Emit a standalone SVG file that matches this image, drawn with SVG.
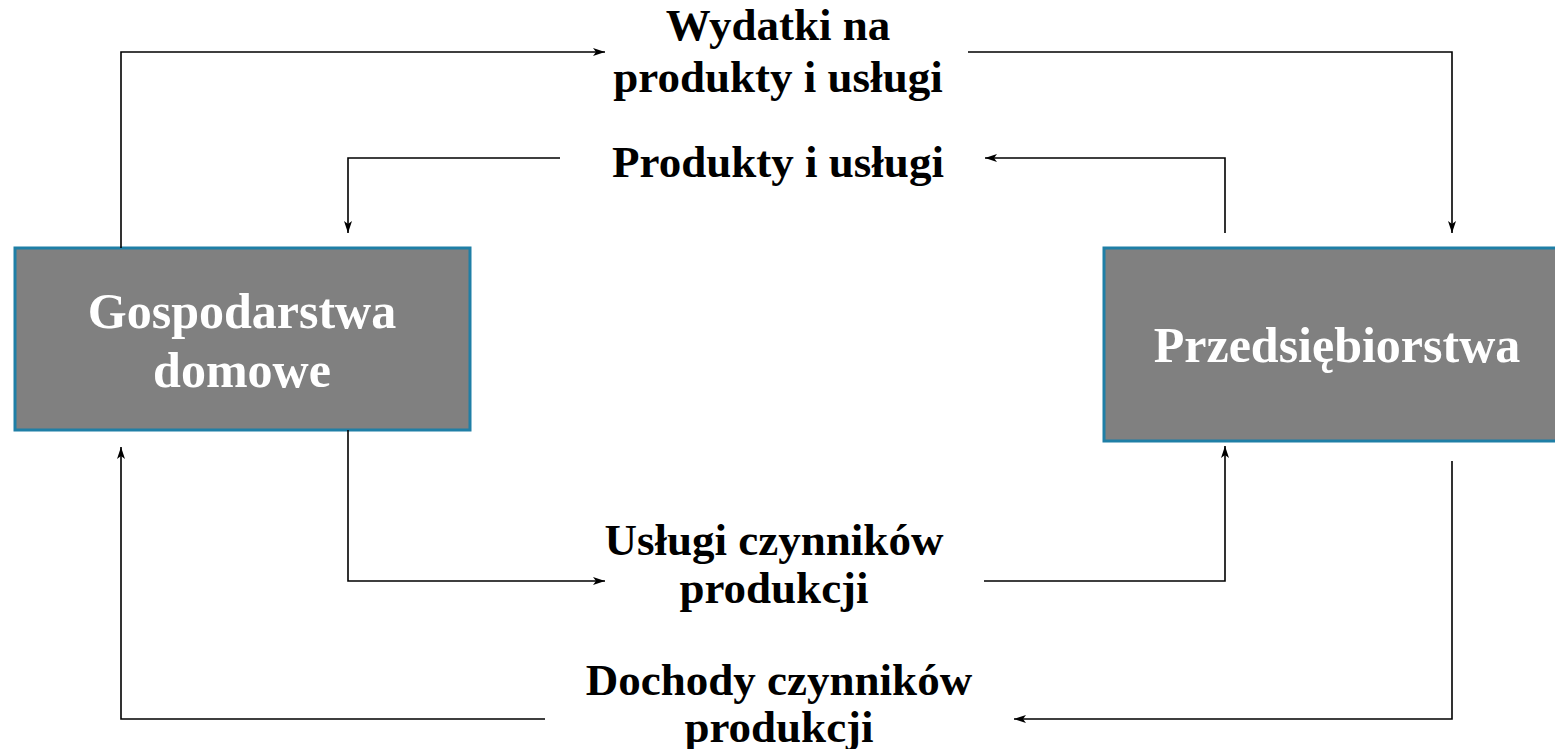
<svg xmlns="http://www.w3.org/2000/svg" width="1555" height="749" viewBox="0 0 1555 749">
<style>
.box{fill:#808080;stroke:#1f7fa6;stroke-width:3}
.bt{font-family:"Liberation Serif","Times New Roman",serif;font-weight:bold;font-size:50px;fill:#ffffff;text-anchor:middle}
.lb{font-family:"Liberation Serif","Times New Roman",serif;font-weight:bold;font-size:45px;fill:#000000;text-anchor:middle}
.cn{fill:none;stroke:#000;stroke-width:1.6;marker-end:url(#ah)}
.cp{fill:none;stroke:#000;stroke-width:1.6}
</style>
<defs>
<marker id="ah" viewBox="0 0 12 8" refX="12" refY="4" markerWidth="12" markerHeight="8" markerUnits="userSpaceOnUse" orient="auto">
<path d="M0,0 L12,4 L0,8 L3,4 Z" fill="#000"/>
</marker>
</defs>
<rect width="1555" height="749" fill="#ffffff"/>
<g id="gospodarstwa">
<rect class="box" x="15" y="248" width="455" height="182"/>
<text class="bt" x="242" y="328">Gospodarstwa</text>
<text class="bt" x="242" y="387">domowe</text>
</g>
<g id="przedsiebiorstwa">
<rect class="box" x="1104" y="248" width="460" height="193"/>
<text class="bt" x="1337" y="362">Przedsiębiorstwa</text>
</g>
<g id="label-wydatki">
<text class="lb" x="778" y="40">Wydatki na</text>
<text class="lb" x="778" y="92">produkty i usługi</text>
</g>
<g id="label-produkty">
<text class="lb" x="778" y="177">Produkty i usługi</text>
</g>
<g id="label-uslugi">
<text class="lb" x="774" y="555">Usługi czynników</text>
<text class="lb" x="774" y="603">produkcji</text>
</g>
<g id="label-dochody">
<text class="lb" x="779" y="695">Dochody czynników</text>
<text class="lb" x="779" y="742">produkcji</text>
</g>
<g id="connectors">
<path class="cn" d="M121,248 V52 H605"/>
<path class="cn" d="M968,52 H1452 V233"/>
<path class="cn" d="M1225,233 V158 H985"/>
<path class="cn" d="M560,158 H348 V233"/>
<path class="cn" d="M348,430 V581 H605"/>
<path class="cn" d="M984,581 H1225 V446"/>
<path class="cn" d="M1452,461 V719 H1014"/>
<path class="cn" d="M545,719 H121 V447"/>
</g>
</svg>
